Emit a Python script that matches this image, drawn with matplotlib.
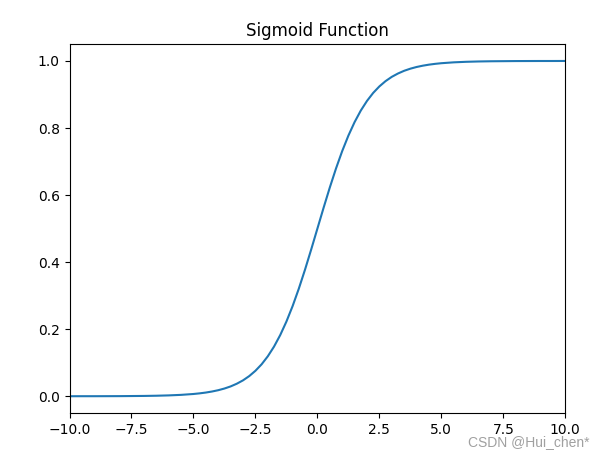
import matplotlib
matplotlib.use("Agg")
import matplotlib.pyplot as plt

# Values
x_values = [-10.0, -9.5, -9.0, -8.5, -8.0, -7.5, -7.0, -6.5, -6.0, -5.5,
            -5.0, -4.75, -4.5, -4.25, -4.0, -3.75, -3.5, -3.25, -3.0, -2.75,
            -2.5, -2.25, -2.0, -1.75, -1.5, -1.25, -1.0, -0.75, -0.5, -0.25,
            0.0, 0.25, 0.5, 0.75, 1.0, 1.25, 1.5, 1.75, 2.0, 2.25,
            2.5, 2.75, 3.0, 3.25, 3.5, 3.75, 4.0, 4.25, 4.5, 4.75,
            5.0, 5.5, 6.0, 6.5, 7.0, 7.5, 8.0, 8.5, 9.0, 9.5, 10.0]
y_values = [0.0000, 0.0001, 0.0001, 0.0002, 0.0003, 0.0006, 0.0009, 0.0015, 0.0025, 0.0041,
            0.0067, 0.0086, 0.0110, 0.0141, 0.0180, 0.0230, 0.0293, 0.0374, 0.0474, 0.0601,
            0.0759, 0.0953, 0.1192, 0.1480, 0.1824, 0.2227, 0.2689, 0.3208, 0.3775, 0.4378,
            0.5000, 0.5622, 0.6225, 0.6792, 0.7311, 0.7773, 0.8176, 0.8520, 0.8808, 0.9047,
            0.9241, 0.9399, 0.9526, 0.9626, 0.9707, 0.9770, 0.9820, 0.9859, 0.9890, 0.9914,
            0.9933, 0.9959, 0.9975, 0.9985, 0.9991, 0.9994, 0.9997, 0.9998, 0.9999, 0.9999, 1.0000]
title = "Sigmoid Function"
watermark = "CSDN @Hui_chen*"

W, H = 604, 458
fig = plt.figure(figsize=(W / 100, H / 100), dpi=100)
left, right, top, bottom = 69.5, 565.3, 44.2, 413.0
ax = fig.add_axes([left / W, (H - bottom) / H, (right - left) / W, (bottom - top) / H])
ax.plot(x_values, y_values, color="#1f77b4", linewidth=1.5)
ax.set_xlim(-10, 10)
ax.set_ylim(-0.05, 1.05)
ax.set_xticks([-10.0, -7.5, -5.0, -2.5, 0.0, 2.5, 5.0, 7.5, 10.0])
ax.set_yticks([0.0, 0.2, 0.4, 0.6, 0.8, 1.0])
ax.set_title(title, fontsize=12)
fig.text(589 / W, 1 - 442 / H, watermark, ha="right", va="center",
         color="#a0a0a0", fontsize=10, family=["Liberation Sans", "DejaVu Sans"])
fig.savefig("out.png", dpi=100)
